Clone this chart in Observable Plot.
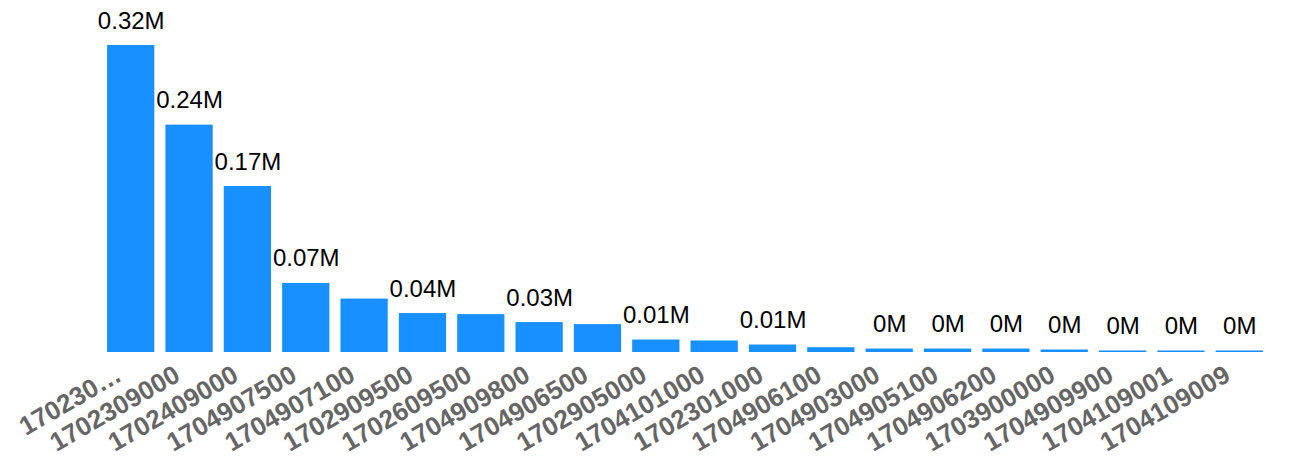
<!DOCTYPE html>
<html>
<head>
<meta charset="utf-8">
<script src="https://cdn.jsdelivr.net/npm/d3@7"></script>
<script src="https://cdn.jsdelivr.net/npm/@observablehq/plot@0.6"></script>
<style>
  html, body { margin: 0; padding: 0; background: #fff; }
  #chart { width: 1291px; height: 460px; overflow: hidden; }
</style>
</head>
<body>
<div id="chart"></div>
<script>
// Categories (product codes), in display order
const codes = [
  "170230", "1702309000", "1702409000", "1704907500", "1704907100",
  "1702909500", "1702609500", "1704909800", "1704906500", "1702905000",
  "1704101000", "1702301000", "1704906100", "1704903000", "1704905100",
  "1704906200", "1703900000", "1704909900", "1704109001", "1704109009"
];
// Tick labels as shown (first one truncated in the original)
const tickLabels = [
  "170230…", "1702309000", "1702409000", "1704907500", "1704907100",
  "1702909500", "1702609500", "1704909800", "1704906500", "1702905000",
  "1704101000", "1702301000", "1704906100", "1704903000", "1704905100",
  "1704906200", "1703900000", "1704909900", "1704109001", "1704109009"
];
// Values in millions
const values = [
  0.320, 0.237, 0.173, 0.072, 0.0557,
  0.0406, 0.0395, 0.0312, 0.0291, 0.0130,
  0.0120, 0.0078, 0.0050, 0.0036, 0.0036,
  0.0036, 0.0026, 0.0016, 0.0016, 0.0016
];

const data = codes.map((c, i) => ({ code: c, label: tickLabels[i], value: values[i] }));
const fmt = d3.format(".2~f");
const labelOf = new Map(data.map(d => [d.code, d.label]));

const chart = Plot.plot({
  width: 1291,
  height: 460,
  marginLeft: 96,
  marginRight: 17,
  marginTop: 45,
  marginBottom: 108,
  style: { fontFamily: "'Liberation Sans', Arial, Helvetica, sans-serif", background: "#fff" },
  x: { domain: codes, padding: 0.19, round: false },
  y: { domain: [0, 0.32], axis: null },
  marks: [
    Plot.barY(data, { x: "code", y: "value", fill: "#1890ff" }),
    Plot.text(data, {
      x: "code", y: "value",
      text: d => fmt(d.value) + "M",
      lineAnchor: "bottom", dy: -17,
      fontSize: 24, fill: "#000",
      className: "vlabels"
    }),
    Plot.axisX({
      tickSize: 0,
      tickPadding: 0,
      tickRotate: -30,
      textAnchor: "end",
      tickFormat: d => labelOf.get(d),
      fontSize: 26,
      fontWeight: "bold",
      fill: "#666",
      dx: -12,
      dy: 20,
      label: null
    })
  ]
});

document.getElementById("chart").appendChild(chart);

// Hide value labels that overlap an already-shown label (greedy, left to right)
const shown = [];
chart.querySelectorAll(".vlabels text").forEach(t => {
  const b = t.getBoundingClientRect();
  const hit = shown.some(s => !(b.right + 2 < s.left || b.left - 2 > s.right || b.bottom < s.top || b.top > s.bottom));
  if (hit) t.setAttribute("display", "none");
  else shown.push(b);
});
</script>
</body>
</html>
